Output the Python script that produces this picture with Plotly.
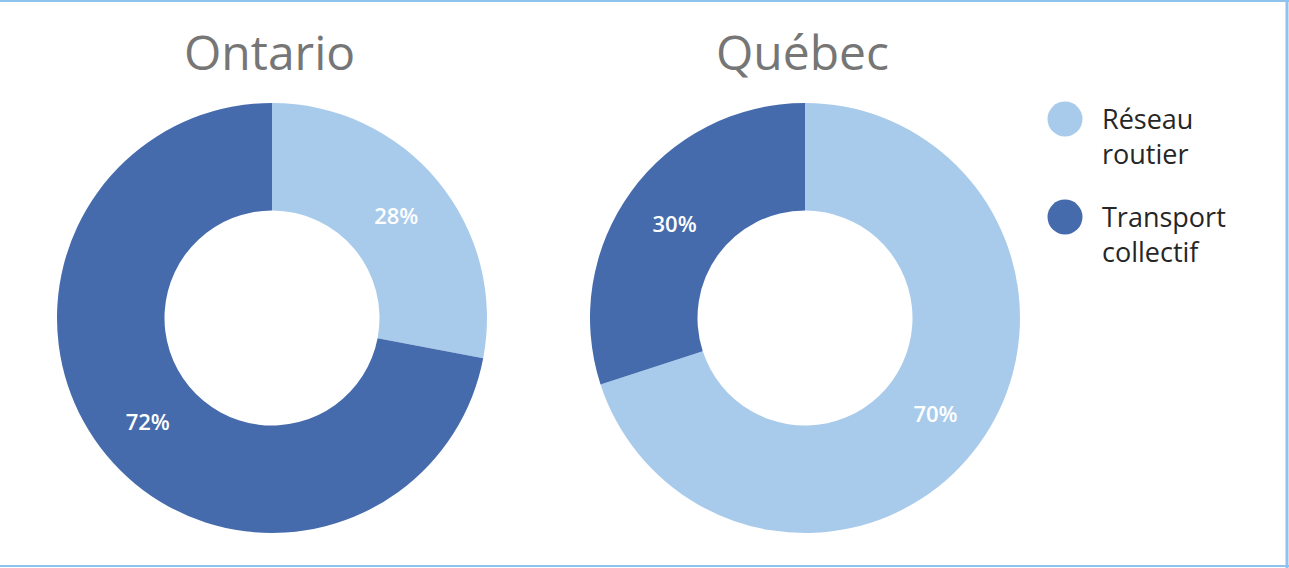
import plotly.graph_objects as go

# ---- data ----
categories = ["Réseau routier", "Transport collectif"]
legend_labels = ["Réseau<br>routier", "Transport<br>collectif"]
regions = ["Ontario", "Québec"]
ontario_values = [28, 72]
quebec_values = [70, 30]
colors = ["#A9CBEB", "#456BAD"]

W, H = 1289, 568
FONT = "Open Sans"

def px_x(v):
    return v / W

def px_y(v_from_top):
    return 1 - v_from_top / H

fig = go.Figure()

# donut geometry (pixels)
centers_x = [272, 805]
center_y = 318
R = 215

for name, vals, cx in zip(regions, [ontario_values, quebec_values], centers_x):
    fig.add_trace(go.Pie(
        labels=categories,
        values=vals,
        hole=0.5,
        sort=False,
        direction="clockwise",
        rotation=0,
        marker=dict(colors=colors, line=dict(width=0)),
        texttemplate="%{value}%",
        textposition="inside",
        insidetextorientation="horizontal",
        textfont=dict(family=FONT, size=22, color="white", weight=600),
        showlegend=False,
        hoverinfo="label+percent",
        domain=dict(x=[px_x(cx - R), px_x(cx + R)],
                    y=[px_y(center_y + R), px_y(center_y - R)]),
        name=name,
    ))
    fig.add_annotation(
        x=px_x(cx - 3), y=px_y(51), xref="paper", yref="paper",
        text=name, showarrow=False, xanchor="center", yanchor="middle",
        font=dict(family=FONT, size=48, color="#767676"),
    )

# custom legend (circles + text)
leg_circle_x = 1065
leg_circle_y = [119, 217]
leg_r = 17.5
shapes = []
for lab, col, cy in zip(legend_labels, colors, leg_circle_y):
    shapes.append(dict(type="circle", xref="paper", yref="paper",
                       x0=px_x(leg_circle_x - leg_r), x1=px_x(leg_circle_x + leg_r),
                       y0=px_y(cy + leg_r), y1=px_y(cy - leg_r),
                       fillcolor=col, line=dict(width=0)))
    fig.add_annotation(
        x=px_x(1100), y=px_y(cy - 21), xref="paper", yref="paper",
        text=lab, showarrow=False, xanchor="left", yanchor="top", align="left",
        font=dict(family=FONT, size=27, color="#262626"),
    )

# light blue frame (top, right, bottom)
border = "#8DC3EE"
shapes += [
    dict(type="line", xref="paper", yref="paper", x0=0, x1=1, y0=px_y(1), y1=px_y(1),
         line=dict(color=border, width=2)),
    dict(type="line", xref="paper", yref="paper", x0=0, x1=1, y0=px_y(566), y1=px_y(566),
         line=dict(color=border, width=2)),
    dict(type="line", xref="paper", yref="paper", x0=px_x(1287), x1=px_x(1287), y0=0, y1=1,
         line=dict(color=border, width=3)),
]

fig.update_layout(
    width=W, height=H,
    margin=dict(l=0, r=0, t=0, b=0),
    paper_bgcolor="white", plot_bgcolor="white",
    shapes=shapes,
    showlegend=False,
)

fig.write_html(
    "out.html",
    config={"displayModeBar": False},
    post_script="document.body.style.margin='0';document.body.style.overflow='hidden';",
)
